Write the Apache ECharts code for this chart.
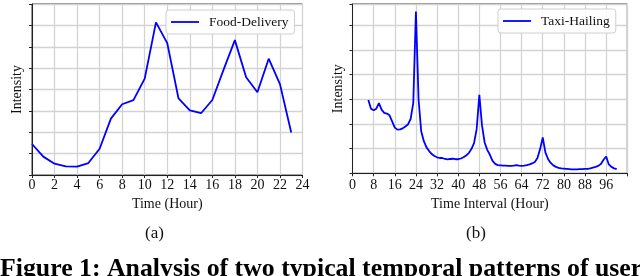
<!DOCTYPE html>
<html><head><meta charset="utf-8">
<script src="https://cdn.jsdelivr.net/npm/echarts@6/dist/echarts.min.js"></script>
<style>html,body{margin:0;padding:0;background:#fff}#c{width:640px;height:276px}</style>
</head><body><div id="c"></div>
<script>
// Panel (a): Food-Delivery, hourly
const hoursA = [0,1,2,3,4,5,6,7,8,9,10,11,12,13,14,15,16,17,18,19,20,21,22,23];
const foodDelivery = [1.45,0.86,0.53,0.40,0.39,0.56,1.23,2.64,3.31,3.50,4.51,7.14,6.17,3.58,3.02,2.89,3.51,4.93,6.31,4.57,3.87,5.44,4.25,1.99];
// Panel (b): Taxi-Hailing, time interval in hours (6..100)
const hoursB = [];
for (let h = 6; h <= 100; h++) hoursB.push(h);
const taxiHailing = [
 2.97,2.62,2.55,2.62,2.84,2.58,2.45,2.42,2.35,2.10, // 6-15
 1.85,1.77,1.78,1.82,1.90,1.98,2.20,2.85,6.55,3.00, // 16-25
 1.70,1.30,1.05,0.90,0.78,0.70,0.65,0.62,0.62,0.58, // 26-35
 0.56,0.58,0.59,0.57,0.57,0.60,0.65,0.72,0.82,0.98, // 36-45
 1.22,1.80,3.18,1.95,1.25,0.95,0.75,0.50,0.38,0.33, // 46-55
 0.32,0.31,0.31,0.30,0.30,0.31,0.33,0.31,0.30,0.31, // 56-65
 0.33,0.36,0.40,0.46,0.62,0.98,1.45,0.85,0.58,0.42, // 66-75
 0.32,0.26,0.22,0.20,0.19,0.18,0.17,0.16,0.16,0.16, // 76-85
 0.17,0.17,0.18,0.18,0.20,0.23,0.26,0.30,0.38,0.55, // 86-95
 0.68,0.36,0.26,0.20,0.17                           // 96-100
];
const xTicksA = {min:0, max:24, interval:2};
const xTicksB = {min:0, max:104, interval:8, lastLabel:96};
const labels = {xa:'Time (Hour)', xb:'Time Interval (Hour)', y:'Intensity', sa:'Food-Delivery', sb:'Taxi-Hailing', pa:'(a)', pb:'(b)',
  caption:'Figure 1: Analysis of two typical temporal patterns of user'};

const FONT = 'Liberation Serif';
const chart = echarts.init(document.getElementById('c'), null, {renderer:'canvas'});
const gridLine = {show:true, lineStyle:{color:'#d3d3d3', width:1.3}};
const axisLine = {show:true, lineStyle:{color:'#222', width:1}};
const tick = {show:true, inside:false, length:3, lineStyle:{color:'#222'}};
const lbl = {color:'#111', fontFamily:FONT, fontSize:14};
function xAxis(gi, t, name, margin, gap, fmt){
  return {type:'value', gridIndex:gi, min:t.min, max:t.max, interval:t.interval,
    name:name, nameLocation:'middle', nameGap:gap,
    nameTextStyle:{color:'#111', fontFamily:FONT, fontSize:14},
    axisLine:axisLine, axisTick:tick, splitLine:gridLine,
    axisLabel:Object.assign({margin:margin, showMaxLabel:true, formatter:fmt}, lbl)};
}
function yAxis(gi, max, gap){
  return {type:'value', gridIndex:gi, min:0, max:max, interval:1,
    name:labels.y, nameLocation:'middle', nameGap:gap,
    nameTextStyle:{color:'#111', fontFamily:FONT, fontSize:14},
    axisLine:axisLine, axisTick:tick, splitLine:gridLine, axisLabel:{show:false}};
}
const legendCommon = {orient:'horizontal', itemWidth:28, itemHeight:10, icon:'path://M0,4.1L28,4.1L28,5.9L0,5.9Z',
  borderColor:'#cfcfcf', borderWidth:1, borderRadius:3, backgroundColor:'rgba(255,255,255,0.9)',
  padding:[5,6,5,5], textStyle:{fontFamily:FONT, fontSize:13.5, color:'#111', padding:[0,0,0,5]}};
chart.setOption({
  animation:false,
  grid:[
    {left:32, top:4, width:270.5, height:171, show:true, borderColor:'#222', borderWidth:1, containLabel:false},
    {left:352.5, top:4, width:274.8, height:169.3, show:true, borderColor:'#222', borderWidth:1, containLabel:false}
  ],
  xAxis:[
    xAxis(0, xTicksA, labels.xa, 3.5, 20, v => String(v)),
    xAxis(1, xTicksB, labels.xb, 5, 21.5, v => v > xTicksB.lastLabel ? '' : String(v))
  ],
  yAxis:[ yAxis(0, 8, 8), yAxis(1, 6.86, 7) ],
  legend:[
    Object.assign({data:[labels.sa], left:166, top:10}, legendCommon),
    Object.assign({data:[labels.sb], left:498, top:9}, legendCommon)
  ],
  series:[
    {name:labels.sa, type:'line', xAxisIndex:0, yAxisIndex:0, showSymbol:false, symbol:'none',
     data:hoursA.map((h,i)=>[h, foodDelivery[i]]), lineStyle:{color:'#0000ff', width:1.8}, itemStyle:{color:'#0000ff'}},
    {name:labels.sb, type:'line', xAxisIndex:1, yAxisIndex:1, showSymbol:false, symbol:'none',
     data:hoursB.map((h,i)=>[h, taxiHailing[i]]), lineStyle:{color:'#0000ff', width:1.8}, itemStyle:{color:'#0000ff'}}
  ],
  graphic:[
    {type:'text', left:145, top:225, style:{text:labels.pa, font:'17px "Liberation Serif"', fill:'#111'}},
    {type:'text', left:466, top:225, style:{text:labels.pb, font:'17px "Liberation Serif"', fill:'#111'}},
    {type:'text', left:0, top:256, style:{text:labels.caption, font:'bold 25.8px "Liberation Serif"', fill:'#000'}}
  ]
});
</script></body></html>
